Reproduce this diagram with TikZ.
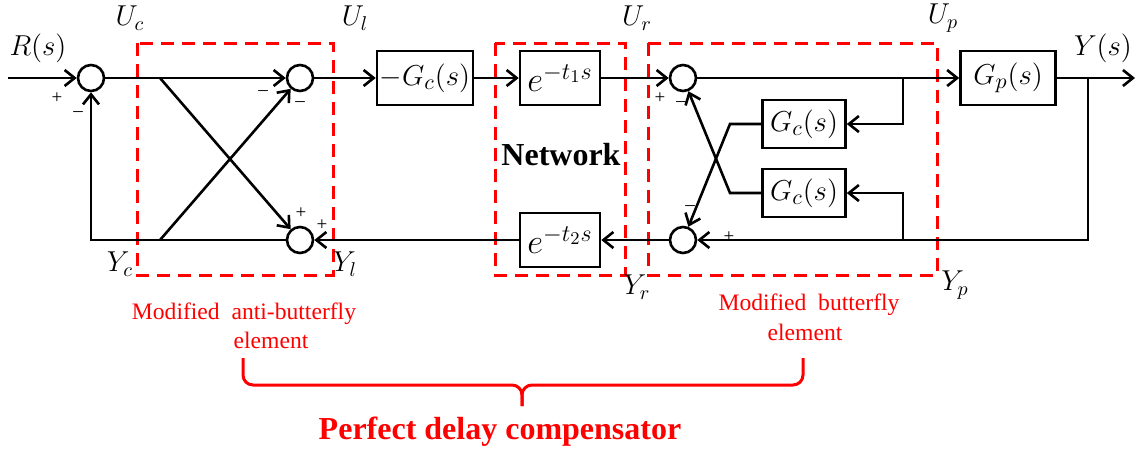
\documentclass[tikz,border=0pt]{standalone}
\usepackage{fontspec}
\setmainfont{Liberation Serif}
\usetikzlibrary{arrows.meta, calc, positioning}
\tikzset{
  % blocco di trasferimento
  blk/.style={draw, line width=1.3pt, minimum height=27pt, inner sep=1pt,
    align=center, font=\fontsize{15}{17}\selectfont},
  dly/.style={blk, minimum width=40pt, font=\fontsize{18}{20}\selectfont},
  % nodo sommatore
  summ/.style={circle, draw, line width=1.3pt, minimum size=13pt, inner sep=0pt},
  % segnali
  sig/.style={line width=1.3pt, -{Straight Barb[length=5pt, width=8pt, line width=1.3pt]}},
  % zona tratteggiata
  zone/.style={draw=red, line width=1.5pt, dash pattern=on 6.5pt off 4pt},
  % etichette
  sgn/.style={font=\fontsize{9.5}{10}\selectfont, inner sep=0pt},
  lbl/.style={font=\fontsize{14}{16}\selectfont, inner sep=0pt},
  redlbl/.style={text=red, font=\fontsize{11.8}{13}\selectfont, inner sep=0pt},
}
\begin{document}
\begin{tikzpicture}[x=0.5pt, y=-0.5pt]
  \useasboundingbox (0,0) rectangle (1139,452);
  % zone
  \draw[zone] (137,43) rectangle (333,275);
  \draw[zone] (495,43) rectangle (625,275);
  \draw[zone] (648,43) rectangle (937,275);
  % blocchi
  \node[summ] (s1) at (91,78) {};
  \node[summ] (sUl) at (300,78) {};
  \node[summ] (sYl) at (300,240) {};
  \node[blk, minimum width=48pt] (gcn) at (425,78) {$-G_c(s)$};
  \node[dly] (d1) at (560,78) {$e^{-t_1 s}$};
  \node[dly] (d2) at (560,240) {$e^{-t_2 s}$};
  \node[summ] (sUr) at (683,78) {};
  \node[summ] (sYr) at (683,240) {};
  \node[blk, minimum width=41.5pt, minimum height=24pt] (gcu) at (804,124) {$G_c(s)$};
  \node[blk, minimum width=41.5pt, minimum height=24pt] (gcl) at (804,193) {$G_c(s)$};
  \node[blk, minimum width=47.5pt] (gp) at (1008,78) {$G_p(s)$};
  \coordinate (in) at (8,78);
  \coordinate (out) at (1135,78);
  \coordinate (bt) at (160,78);
  \coordinate (bb) at (160,240);
  \coordinate (tj) at (903,78);
  \coordinate (bj) at (903,240);
  \coordinate (yj) at (1088,78);
  \coordinate (cu) at (730,124);
  \coordinate (cl) at (730,193);
  % collegamenti
  \draw[sig] (in) -- (s1);
  \draw[sig] (s1) -- (sUl);
  \draw[sig] (bt) -- (sYl);
  \draw[sig] (bb) -- (sUl);
  \draw[sig] (sYl) -| (s1);
  \draw[sig] (sUl) -- (gcn);
  \draw[sig] (gcn) -- (d1);
  \draw[sig] (d1) -- (sUr);
  \draw[sig] (sUr) -- (gp);
  \draw[sig] (gp) -- (out);
  \draw[sig] (yj) |- (sYr);
  \draw[sig] (sYr) -- (d2);
  \draw[sig] (d2) -- (sYl);
  \draw[sig] (tj) |- (gcu);
  \draw[sig] (bj) |- (gcl);
  \draw[sig] (gcu) -- (cu) -- (sYr);
  \draw[sig] (gcl) -- (cl) -- (sUr);
  % segni
  \node[sgn] (p1) at (57,98) {+};
  \node[sgn] (m1) at (78,114) {--};
  \node[sgn] (m2) at (263,93) {--};
  \node[sgn] (m3) at (300,104) {--};
  \node[sgn] (p2) at (301,213) {+};
  \node[sgn] (p3) at (322,225) {+};
  \node[sgn] (p4) at (660,98) {+};
  \node[sgn] (m4) at (681,104) {--};
  \node[sgn] (m5) at (690,208) {--};
  \node[sgn] (p5) at (729,237) {+};
  % segnali
  \node[lbl] (lR) at (38,48) {$R(s)$};
  \node[lbl] (lY) at (1103,48) {$Y(s)$};
  \node[lbl] (lUc) at (130,18) {$U_c$};
  \node[lbl] (lUl) at (355,18) {$U_l$};
  \node[lbl] (lUr) at (637,18) {$U_r$};
  \node[lbl] (lUp) at (943,18) {$U_p$};
  \node[lbl] (lYc) at (120,264) {$Y_c$};
  \node[lbl] (lYl) at (345,264) {$Y_l$};
  \node[lbl] (lYr) at (637,287) {$Y_r$};
  \node[lbl] (lYp) at (955,285) {$Y_p$};
  \node[font=\bfseries\fontsize{16}{18}\selectfont] (net) at (561,155) {Network};
  % compensatore
  \node[redlbl] (abf1) at (244,314) {Modified\ \ anti-butterfly};
  \node[redlbl] (abf2) at (271,340) {element};
  \node[redlbl] (bf1) at (809,305) {Modified\ \ butterfly};
  \node[redlbl] (bf2) at (805,332) {element};
  \draw[red, line width=1.5pt, rounded corners=5pt] (243,358) -- (243,385) -- (522,385) -- (522,406);
  \draw[red, line width=1.5pt, rounded corners=5pt] (803,358) -- (803,385) -- (522,385) -- (522,406);
  \node[text=red, font=\bfseries\fontsize{16}{18}\selectfont] (pdc) at (500,432) {Perfect delay compensator};
\end{tikzpicture}
\end{document}
